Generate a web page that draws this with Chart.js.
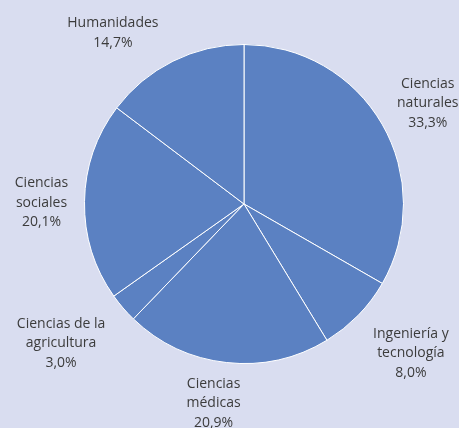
<!DOCTYPE html>
<html>
<head>
<meta charset="utf-8">
<script src="https://cdn.jsdelivr.net/npm/chart.js@4/dist/chart.umd.min.js"></script>
<style>
  html, body { margin: 0; padding: 0; background: #d9ddf0; }
  #wrap { width: 459px; height: 428px; }
</style>
</head>
<body>
<div id="wrap"><canvas id="pieChart" width="459" height="428"></canvas></div>
<script>
// areas, clockwise from the top
const categories = [
    ["Ciencias", "naturales"],
    ["Ingeniería y", "tecnología"],
    ["Ciencias", "médicas"],
    ["Ciencias de la", "agricultura"],
    ["Ciencias", "sociales"],
    ["Humanidades"]
];
const shares = [33.3, 8.0, 20.9, 3.0, 20.1, 14.7];

// small hand nudges for the label blocks (px), same order as above
const labelNudge = [[-1, 6], [14, 0], [-7, -13], [-21, 0], [11, 2], [-36, 20]];

const fmt = v => v.toFixed(1).replace(".", ",") + "%";

// draws the name and share outside each slice
const outsideLabels = {
    id: "outsideLabels",
    afterDraw(chart) {
        let ctx = chart.ctx
          , meta = chart.getDatasetMeta(0);
        ctx.save();
        ctx.font = "14px 'Open Sans'";
        ctx.fillStyle = "#3c3c3c";
        ctx.textAlign = "center";
        ctx.textBaseline = "middle";
        meta.data.forEach((arc, i) => {
            let p = arc.getProps(["x", "y", "startAngle", "endAngle", "outerRadius"], true)
              , mid = (p.startAngle + p.endAngle) / 2
              , dist = p.outerRadius + 54
              , cx = p.x + Math.cos(mid) * dist + labelNudge[i][0]
              , cy = p.y + Math.sin(mid) * dist + labelNudge[i][1]
              , lines = categories[i].concat([fmt(shares[i])])
              , lh = 19.5
              , top = cy - (lines.length - 1) * lh / 2;
            lines.forEach((t, j) => ctx.fillText(t, cx, top + j * lh));
        });
        ctx.restore();
    }
};

new Chart(document.getElementById("pieChart"), {
    type: "pie",
    data: {
        labels: categories.map(c => c.join(" ")),
        datasets: [{
            data: shares,
            backgroundColor: "#5b81c2",
            borderColor: "#ffffff",
            borderWidth: 1
        }]
    },
    options: {
        responsive: false,
        animation: false,
        layout: {
            padding: { left: 84, right: 55, top: 44, bottom: 64 }
        },
        plugins: {
            legend: { display: false },
            tooltip: { enabled: false }
        }
    },
    plugins: [outsideLabels]
});
</script>
</body>
</html>
